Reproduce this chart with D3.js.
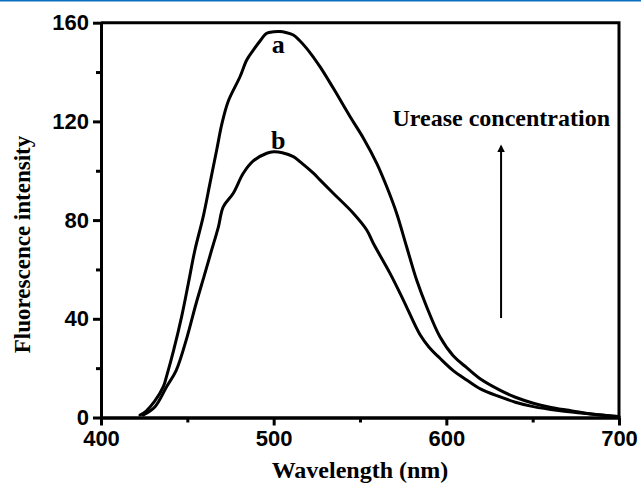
<!DOCTYPE html>
<html lang="en">
<head>
    <meta charset="UTF-8">
    <title>Fluorescence spectra</title>
    <script src="https://cdn.jsdelivr.net/npm/d3@7"></script>
    <style>
        body{ margin: 0; background: white; }
        .tick text{ font-family: "Liberation Sans", Arial, sans-serif; font-weight: bold; font-size: 22px; }
        .axis path, .axis line{ stroke: black; stroke-width: 3px; }
        .lbl{ font-family: "Liberation Serif", "Times New Roman", serif; font-weight: bold; }
    </style>
</head>
<body>
<svg id="canvas" width="641" height="485"></svg>
<script>
    // curve a (higher urease concentration)
    const waveA = [422.6,426,431,436.1,438,441.9,446.7,450.6,454.4,459.2,463.1,467,470,473.7,480.5,484.4,488.2,492,496,500,503.7,507,511.4,515,519.1,526.8,534.5,544.2,551.9,559.7,565.5,571.2,577,582.8,588.6,596.3,604,611.8,620,631,640,650.4,660,669.7,685,700];
    const intA  = [1.0,2.5,6.5,12.5,16.8,26.8,40.9,54.4,67.9,81.4,94.9,108.4,119,128.2,138.1,144.9,148.9,152.5,155.7,156.3,156.4,156,155,152.8,149.6,142.2,133.5,122,113.3,103,93.5,82.8,69.2,55.7,44.9,32.7,25,20.2,15.5,11.1,8.2,5.8,4.2,3.0,1.3,0.4];
    // curve b
    const waveB = [424.5,431.3,438,443.5,449.8,454.8,459.8,464.1,468,470.8,476.6,482.4,488.2,496,500,505,511.4,515.2,523,526.8,534.5,546.1,553.9,557.7,567.4,575.1,584.8,590,596.3,604,611.8,620,631,640,650.4,665,679.3,700];
    const intB  = [1.0,4.4,12.5,19,32.5,45.5,57.5,67.9,77.3,85.4,90.9,99,104,107.1,107.7,107.3,105.7,103.7,99,96.3,90.9,82.8,76,70.6,58.4,47.6,33.5,28.5,24,19,15.2,11.5,8.4,6.2,4.4,2.8,1.7,0.3];

    const xTicks = [400,500,600,700];
    const xMinor = [450,550,650];
    const yTicks = [0,40,80,120,160];
    const yMinor = [20,60,100,140];

    const svg = d3.select('svg');
    const mLeft = 101, mRight = 619, mTop = 22.7, mBottom = 417.5;

    const x = d3.scaleLinear().domain([400,700]).range([mLeft,mRight]);
    const y = d3.scaleLinear().domain([0,160]).range([mBottom,mTop]);

    // thin blue rule at the very top of the picture
    svg.append('rect').attr('x',0).attr('y',0).attr('width',641).attr('height',1.5).attr('fill','#0b6fc2');

    // frame top/right
    svg.append('path')
        .attr('d', `M${mLeft},${mTop}H${mRight}V${mBottom}`)
        .attr('fill','none').attr('stroke','black').attr('stroke-width',3);

    // axes
    svg.append('g').attr('class','axis').attr('transform',`translate(0,${mBottom})`)
        .call(d3.axisBottom(x).tickValues(xMinor).tickSize(5).tickFormat('').tickSizeOuter(0));
    svg.append('g').attr('class','axis').attr('transform',`translate(0,${mBottom})`)
        .call(d3.axisBottom(x).tickValues(xTicks).tickSize(8).tickPadding(5).tickSizeOuter(0));
    svg.append('g').attr('class','axis').attr('transform',`translate(${mLeft},0)`)
        .call(d3.axisLeft(y).tickValues(yMinor).tickSize(5).tickFormat('').tickSizeOuter(0));
    svg.append('g').attr('class','axis').attr('transform',`translate(${mLeft},0)`)
        .call(d3.axisLeft(y).tickValues(yTicks).tickSize(8).tickPadding(4).tickSizeOuter(0));

    // spectra
    const line = d3.line().x(d => x(d[0])).y(d => y(d[1])).curve(d3.curveCatmullRom.alpha(0.5));
    [d3.zip(waveA,intA), d3.zip(waveB,intB)].forEach(pts => {
        svg.append('path').attr('d', line(pts))
            .attr('fill','none').attr('stroke','black').attr('stroke-width',3)
            .attr('stroke-linejoin','round').attr('stroke-linecap','round');
    });

    // curve labels
    svg.append('text').attr('class','lbl').attr('x',x(502.6)).attr('y',y(147.6))
        .attr('text-anchor','middle').attr('font-size',26).text('a');
    svg.append('text').attr('class','lbl').attr('x',x(502.6)).attr('y',y(109))
        .attr('text-anchor','middle').attr('font-size',26).text('b');

    // arrow annotation
    svg.append('defs').append('marker').attr('id','head')
        .attr('viewBox','0 0 10 10').attr('refX',8).attr('refY',5)
        .attr('markerWidth',4).attr('markerHeight',5).attr('orient','auto')
        .append('path').attr('d','M0,0L10,5L0,10Z').attr('fill','black');
    svg.append('line').attr('x1',x(631.7)).attr('x2',x(631.7))
        .attr('y1',y(40.3)).attr('y2',y(110))
        .attr('stroke','black').attr('stroke-width',2).attr('marker-end','url(#head)');
    svg.append('text').attr('class','lbl').attr('x',x(631.8)).attr('y',y(118))
        .attr('text-anchor','middle').attr('font-size',24).text('Urease concentration');

    // axis titles
    svg.append('text').attr('class','lbl').attr('x',(mLeft+mRight)/2).attr('y',478)
        .attr('text-anchor','middle').attr('font-size',24).text('Wavelength (nm)');
    svg.append('text').attr('class','lbl')
        .attr('transform','translate(30,244.5) rotate(-90)')
        .attr('text-anchor','middle').attr('font-size',23).text('Fluorescence intensity');
</script>
</body>
</html>
